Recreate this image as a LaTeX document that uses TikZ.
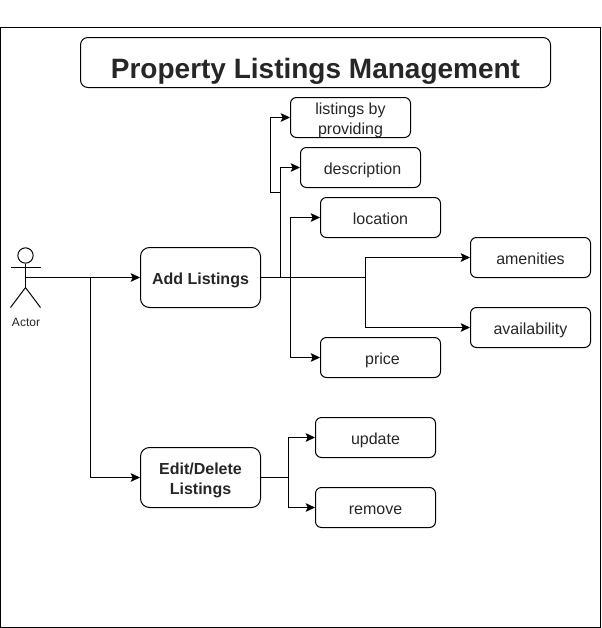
\documentclass[tikz,border=0pt]{standalone}
\usepackage{fontspec}
\setmainfont{Liberation Sans}
\usetikzlibrary{arrows.meta,calc}
\definecolor{txt}{HTML}{262626}
\newcommand{\dn}[1]{\raisebox{-5.1pt}[0pt][0pt]{#1}}
\tikzset{
  box/.style={draw=black,line width=0.75pt,rounded corners=4.5pt,minimum width=90pt,minimum height=30pt,inner sep=0pt,align=center,text=txt,font=\fontsize{12}{15}\selectfont},
  tallbox/.style={box,rounded corners=6.75pt,minimum height=45pt,font=\fontsize{12}{15}\selectfont\bfseries},
  link/.style={draw=black,line width=0.75pt,-{Stealth[length=7pt,width=6.5pt,inset=1.5pt]}},
  plain/.style={draw=black,line width=0.75pt},
}
\begin{document}
\begin{tikzpicture}[x=0.75pt,y=-0.75pt]
\useasboundingbox (0,0) rectangle (601,628);
\draw[plain] (0.5,27.5) rectangle (600.5,627.5);
\node[box,rounded corners=5.6pt,minimum width=352.5pt,minimum height=37.5pt,font=\fontsize{21}{26}\selectfont\bfseries] (title) at (315.5,62.5) {\raisebox{-12.2pt}[0pt][0pt]{Property Listings Management}};
\node[box] (listings) at (350.5,117.5) {\dn{listings by}\\\dn{providing}};
\node[box] (description) at (360.5,167.5) {\dn{\hspace{3pt}description}};
\node[box] (location) at (380.5,217.5) {\dn{location}};
\node[box] (amenities) at (530.5,257.5) {\dn{amenities}};
\node[box] (availability) at (530.5,327.5) {\dn{availability}};
\node[box] (price) at (380.5,357.5) {\dn{\hspace{3pt}price}};
\node[tallbox] (add) at (200.5,277.5) {\dn{Add Listings}};
\node[tallbox] (edit) at (200.5,477.5) {\dn{Edit/Delete}\\\dn{Listings}};
\node[box] (update) at (375.5,437.5) {\dn{update}};
\node[box] (remove) at (375.5,507.5) {\dn{remove}};
% actor
\node[draw=black,line width=0.75pt,circle,minimum size=11.5pt,inner sep=0pt] (head) at (25.5,255.5) {};
\coordinate (hip) at (25.5,287.5);
\coordinate (handL) at (10.5,267.5);
\coordinate (handR) at (40.5,267.5);
\coordinate (footL) at (10.5,307.5);
\coordinate (footR) at (40.5,307.5);
\coordinate (actorout) at (25.5,277.5);
\draw[plain] (head.south) -- (hip);
\draw[plain] (handL) -- (handR);
\draw[plain] (footL) -- (hip) -- (footR);
\node[text=txt,font=\fontsize{9}{11}\selectfont,inner sep=0pt] (actorlabel) at (26,322) {Actor};
% actor connectors
\coordinate (branch) at (90.5,277.5);
\draw[link] (actorout) -- (add.west);
\draw[link] (branch) |- (edit.west);
% add listing connectors
\coordinate (j1) at (280.5,277.5);
\coordinate (j2) at (280.5,192.5);
\coordinate (j2b) at (270.5,192.5);
\coordinate (j3) at (290.5,277.5);
\coordinate (j4) at (365.5,277.5);
\draw[plain] (add.east) -- (j4);
\draw[link] (j1) |- (description.west);
\draw[link] (j2) -- (j2b) |- (listings.west);
\draw[link] (j3) |- (location.west);
\draw[link] (j3) |- (price.west);
\draw[link] (j4) |- (amenities.west);
\draw[link] (j4) |- (availability.west);
% edit connectors
\coordinate (e1) at (288,477.5);
\draw[plain] (edit.east) -- (e1);
\draw[link] (e1) |- (update.west);
\draw[link] (e1) |- (remove.west);
\end{tikzpicture}
\end{document}
